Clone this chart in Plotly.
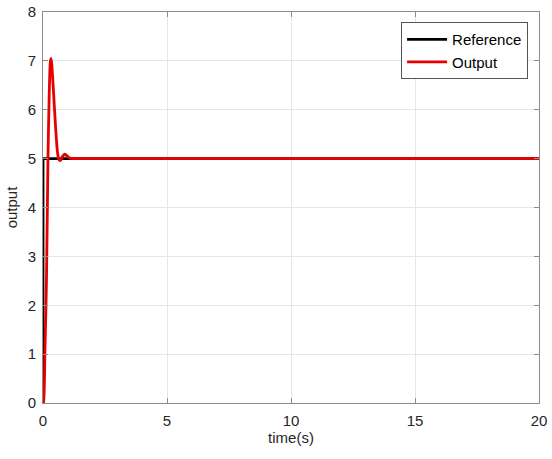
import plotly.graph_objects as go

# Reference signal (step to 5)
ref_t = [0, 0, 20]
ref_y = [0, 5, 5]

# System output
out_t = [0, 0.02, 0.08, 0.14, 0.2, 0.25, 0.29, 0.32, 0.35, 0.42, 0.5, 0.58, 0.64, 0.7, 0.78, 0.88, 0.96, 1.05, 1.2, 1.5, 2.0, 20]
out_y = [0, 0.0, 1.1, 2.5, 5.0, 6.3, 6.95, 7.05, 6.95, 6.4, 5.7, 5.15, 4.98, 4.96, 5.04, 5.09, 5.06, 5.02, 5.0, 5.0, 5.0, 5.0]

x_ticks = [0, 5, 10, 15, 20]
y_ticks = [0, 1, 2, 3, 4, 5, 6, 7, 8]

fig = go.Figure()
fig.add_trace(go.Scatter(x=ref_t, y=ref_y, mode="lines", name="Reference",
                         line=dict(color="#000000", width=2.8)))
fig.add_trace(go.Scatter(x=out_t, y=out_y, mode="lines", name="Output",
                         line=dict(color="#e80000", width=2.8, shape="spline", smoothing=0.6)))

axis_common = dict(
    showline=True, linecolor="#8c8c8c", linewidth=1, mirror="allticks",
    ticks="inside", ticklen=5, tickcolor="#8c8c8c",
    showgrid=True, gridcolor="#e6e6e6", gridwidth=1,
    zeroline=False, automargin=False,
    tickfont=dict(family="Liberation Sans, Arial", size=15, color="#262626"),
)

fig.update_layout(
    width=552, height=459,
    margin=dict(l=43, r=13, t=12, b=56, autoexpand=False),
    paper_bgcolor="white", plot_bgcolor="white",
    font=dict(family="Liberation Sans, Arial", size=15, color="#262626"),
    xaxis=dict(range=[0, 20], tickvals=x_ticks, ticklabelstandoff=4,
               title=dict(text="time(s)", standoff=4, font=dict(size=15)), **axis_common),
    yaxis=dict(range=[0, 8], tickvals=y_ticks, ticklabelstandoff=3,
               title=dict(text="output", standoff=6, font=dict(size=15)), **axis_common),
    legend=dict(x=0.978, y=0.974, xanchor="right", yanchor="top",
                bgcolor="white", bordercolor="#555555", borderwidth=1,
                itemwidth=40,
                font=dict(size=15, color="#000000"), tracegroupgap=0),
    showlegend=True,
)

fig.write_html("out.html")
